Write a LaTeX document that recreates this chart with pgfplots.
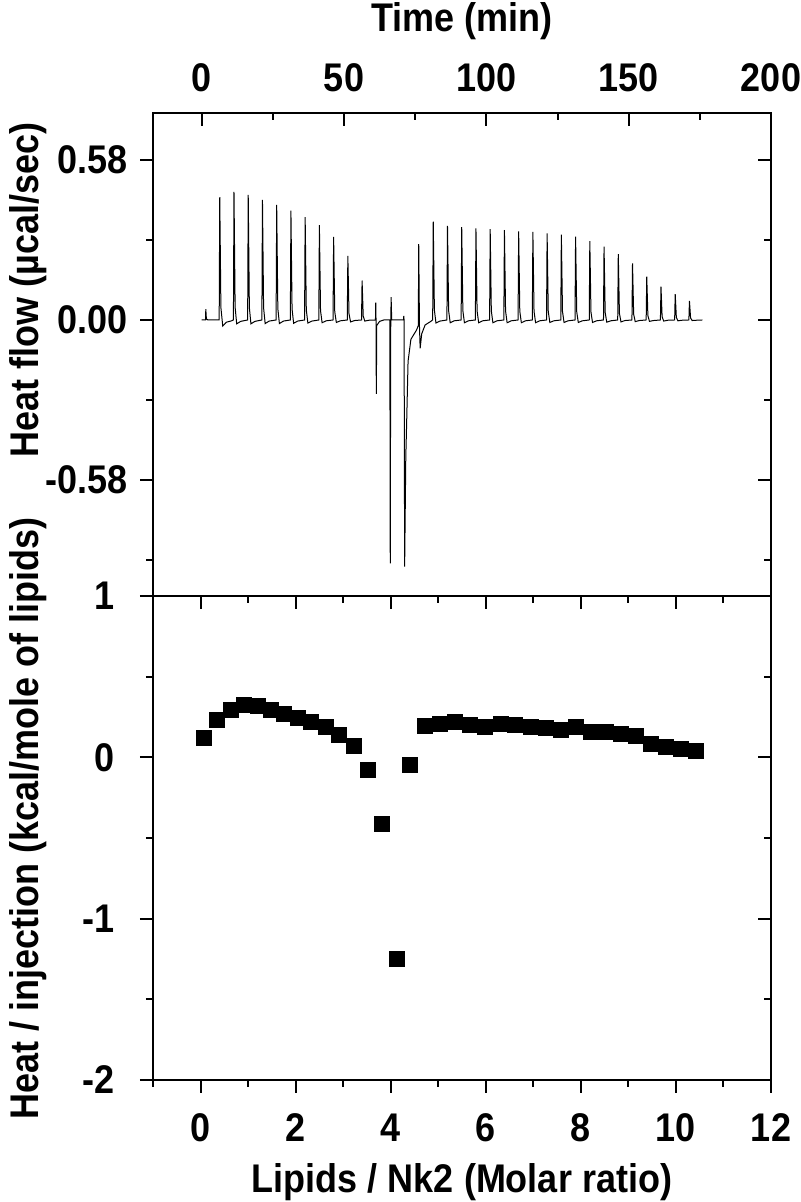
\documentclass[border=0pt]{standalone}
\usepackage{fontspec}
\setmainfont{Liberation Sans}[FakeStretch=0.9]
\usepackage{pgfplots}
\pgfplotsset{compat=1.18}

\pgfplotsset{
  panel/.style={
    scale only axis, width=309pt, anchor=south west,
    axis line style={line width=1pt},
    tick style={line width=1pt, black},
    major tick length=6.5pt, minor tick length=3.5pt,
    ticklabel style={font=\fontsize{20}{24}\selectfont\bfseries},
    label style={font=\fontsize{20}{24}\selectfont\bfseries},
    /pgf/number format/assume math mode=true,
  },
  toppanel/.style={panel, at={(76.5pt,303pt)}, height=241.5pt,
    xmin=-17.1, xmax=200, ymin=-1, ymax=0.75},
  botpanel/.style={panel, at={(76.5pt,61pt)}, height=242pt,
    xmin=-1, xmax=12, ymin=-2, ymax=1},
}

\begin{document}
\begin{tikzpicture}
\path[use as bounding box] (0,0) rectangle (400pt,601pt);

% top panel: raw heat flow vs time
\begin{axis}[toppanel,
    tick align=inside,
    xtick={0,50,100,150,200}, xticklabels={0,50,100,150,200},
    minor xtick={25,75,125,175},
    xtick pos=right, xticklabel pos=right,
    xticklabel style={anchor=center, yshift=17.5pt},
    ytick={-0.58,0,0.58}, yticklabels={-0.58,0.00,0.58},
    minor ytick={-0.87,-0.29,0.29},
    ytick pos=right, yticklabel pos=left,
    yticklabel style={anchor=east, xshift=-9pt},
    xlabel={Time (min)},
    xlabel style={at={(axis description cs:0.5,1.19)}, anchor=center},
    ylabel={Heat flow (µcal/sec)},
    ylabel style={at={(axis description cs:-0.202,0.634)}, anchor=center},
  ]
  \addplot[black, line width=0.5pt] coordinates {
    (0,0) (1.35,0) (1.45,0.039) (1.65,0.004) (2.2,0)
    (6.15,0) (6.35,0.445) (6.75,0.045) (7.4,-0.022) (8.7,-0.008) (10.5,-0.003)
    (11.15,0) (11.35,0.464) (11.75,0.046) (12.3,-0.014) (13.7,-0.005)
    (16.15,0) (16.35,0.453) (16.75,0.045) (17.3,-0.014) (18.7,-0.005)
    (21.15,0) (21.35,0.435) (21.75,0.044) (22.3,-0.013) (23.7,-0.004)
    (26.15,0) (26.35,0.417) (26.75,0.042) (27.3,-0.013) (28.7,-0.004)
    (31.15,0) (31.35,0.396) (31.75,0.040) (32.3,-0.012) (33.7,-0.004)
    (36.15,0) (36.35,0.373) (36.75,0.037) (37.3,-0.011) (38.7,-0.004)
    (41.15,0) (41.35,0.344) (41.75,0.034) (42.3,-0.010) (43.7,-0.003)
    (46.15,0) (46.35,0.301) (46.75,0.030) (47.3,-0.009) (48.7,-0.003)
    (51.15,0) (51.35,0.232) (51.75,0.023) (52.3,-0.007) (53.7,-0.002)
    (56.15,0) (56.35,0.143) (56.75,0.014) (57.3,-0.004) (58.7,-0.001)
    (61.05,0) (61.15,0.063) (61.25,0) (61.35,-0.268) (61.5,-0.02) (62.5,-0.005) (64,0)
    (66.1,0) (66.25,-0.882) (66.4,-0.04) (66.55,0.083) (66.75,0) (69,0)
    (70.9,0) (71.0,0.015) (71.1,0) (71.3,-0.894) (71.7,-0.5) (72.0,-0.375)
    (72.5,-0.15) (73.5,-0.07) (75.5,-0.036) (76.1,-0.02)
    (76.25,0.275) (76.5,-0.02) (76.75,-0.103) (77.3,-0.05) (78.5,-0.018) (80.5,-0.005) (81.1,0)
    (81.15,0) (81.35,0.356) (81.75,0.036) (82.3,-0.011) (83.7,-0.004)
    (86.15,0) (86.35,0.341) (86.75,0.034) (87.3,-0.010) (88.7,-0.003)
    (91.15,0) (91.35,0.336) (91.75,0.034) (92.3,-0.010) (93.7,-0.003)
    (96.15,0) (96.35,0.332) (96.75,0.033) (97.3,-0.010) (98.7,-0.003)
    (101.15,0) (101.35,0.329) (101.75,0.033) (102.3,-0.010) (103.7,-0.003)
    (106.15,0) (106.35,0.326) (106.75,0.033) (107.3,-0.010) (108.7,-0.003)
    (111.15,0) (111.35,0.321) (111.75,0.032) (112.3,-0.010) (113.7,-0.003)
    (116.15,0) (116.35,0.319) (116.75,0.032) (117.3,-0.010) (118.7,-0.003)
    (121.15,0) (121.35,0.314) (121.75,0.031) (122.3,-0.009) (123.7,-0.003)
    (126.15,0) (126.35,0.309) (126.75,0.031) (127.3,-0.009) (128.7,-0.003)
    (131.15,0) (131.35,0.302) (131.75,0.030) (132.3,-0.009) (133.7,-0.003)
    (136.15,0) (136.35,0.286) (136.75,0.029) (137.3,-0.009) (138.7,-0.003)
    (141.15,0) (141.35,0.266) (141.75,0.027) (142.3,-0.008) (143.7,-0.003)
    (146.15,0) (146.35,0.239) (146.75,0.024) (147.3,-0.007) (148.7,-0.002)
    (151.15,0) (151.35,0.205) (151.75,0.021) (152.3,-0.006) (153.7,-0.002)
    (156.15,0) (156.35,0.157) (156.75,0.016) (157.3,-0.005) (158.7,-0.002)
    (161.15,0) (161.35,0.121) (161.75,0.012) (162.3,-0.004) (163.7,-0.001)
    (166.15,0) (166.35,0.094) (166.75,0.009) (167.3,-0.003) (168.7,-0.001)
    (171.15,0) (171.35,0.069) (171.75,0.007) (172.3,-0.002) (173.7,-0.001)
    (175.9,0)
  };
\end{axis}
% left ticks of top panel point outwards
\begin{axis}[toppanel,
    tick align=outside, xtick=\empty,
    ytick={-0.58,0,0.58}, yticklabels={,,},
    minor ytick={-0.87,-0.29,0.29},
    ytick pos=left,
  ]
\end{axis}

% bottom panel: integrated heats
\begin{axis}[botpanel,
    tick align=outside,
    xtick={0,2,4,6,8,10,12}, xticklabels={0,2,4,6,8,10,12},
    minor xtick={-1,1,3,5,7,9,11},
    xtick pos=left,
    xticklabel style={anchor=center, yshift=-17.5pt},
    ytick={-2,-1,0,1}, yticklabels={-2,-1,0,1},
    minor ytick={-1.5,-0.5,0.5},
    ytick pos=left,
    yticklabel style={anchor=east, xshift=-9pt},
    xlabel={Lipids / Nk2 (Molar ratio)},
    xlabel style={at={(axis description cs:0.5,-0.212)}, anchor=center},
    ylabel={Heat / injection (kcal/mole of lipids)},
    ylabel style={at={(axis description cs:-0.202,0.54)}, anchor=center},
  ]
  \addplot[only marks, mark=square*, mark size=3.75pt, black] coordinates {
    (0.07,0.119) (0.35,0.233) (0.63,0.295) (0.92,0.326) (1.20,0.320)
    (1.48,0.291) (1.76,0.270) (2.04,0.243) (2.33,0.222) (2.63,0.188)
    (2.92,0.140) (3.22,0.071) (3.51,-0.080) (3.82,-0.413) (4.12,-1.252)
    (4.41,-0.047) (4.72,0.196) (5.04,0.208) (5.36,0.219) (5.67,0.204)
    (5.99,0.188) (6.31,0.208) (6.62,0.198) (6.94,0.191) (7.26,0.183)
    (7.58,0.171) (7.89,0.188) (8.21,0.157) (8.53,0.157) (8.84,0.146)
    (9.16,0.135) (9.48,0.084) (9.79,0.063) (10.11,0.053) (10.43,0.042)
  };
\end{axis}
% top and right ticks of bottom panel point inwards
\begin{axis}[botpanel,
    tick align=inside,
    xtick={0,2,4,6,8,10,12}, xticklabels={,,,,,,},
    minor xtick={-1,1,3,5,7,9,11},
    xtick pos=right,
    ytick={-2,-1,0,1}, yticklabels={,,,},
    minor ytick={-1.5,-0.5,0.5},
    ytick pos=right,
  ]
\end{axis}
\end{tikzpicture}
\end{document}
